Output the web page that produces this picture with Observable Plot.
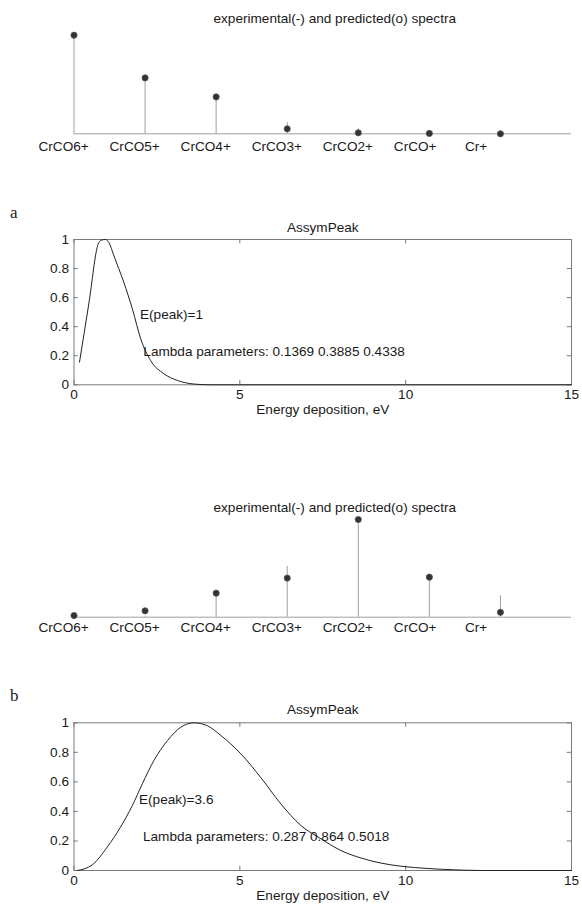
<!DOCTYPE html>
<html><head><meta charset="utf-8">
<script src="https://cdn.jsdelivr.net/npm/d3@7"></script>
<script src="https://cdn.jsdelivr.net/npm/@observablehq/plot@0.6"></script>
<style>
body{margin:0;background:#fff;width:582px;height:904px;position:relative;overflow:hidden}
.p{position:absolute;left:0}
.lab{position:absolute;font-family:"Liberation Serif","DejaVu Serif",serif;font-size:17px;color:#222}
</style></head><body>
<div class="lab" style="left:10px;top:203px">a</div>
<div class="lab" style="left:10px;top:686px">b</div>
<div id="p1" class="p" style="top:0px"></div>
<div id="p2" class="p" style="top:195px"></div>
<div id="p3" class="p" style="top:490px"></div>
<div id="p4" class="p" style="top:680px"></div>
<script>
const categories = ["CrCO6+","CrCO5+","CrCO4+","CrCO3+","CrCO2+","CrCO+","Cr+"];
const expA  = [1.0, 0.57, 0.38, 0.115, 0.05, 0.0, 0.0];
const predA = [1.0, 0.567, 0.374, 0.05, 0.01, 0.004, 0.0];
const expB  = [0.0, 0.01, 0.25, 0.52, 1.0, 0.41, 0.22];
const predB = [0.017, 0.065, 0.246, 0.40, 1.0, 0.41, 0.05];
const stemTitle = "experimental(-) and predicted(o) spectra";

const aE = [0.166, 0.45, 0.73, 0.82, 0.95, 1.05, 1.2, 1.5, 1.76, 2.01, 2.31, 2.71, 3.12, 3.62, 4.1, 5, 15];
const aY = [0.156, 0.563, 0.97, 0.995, 1.0, 0.98, 0.89, 0.706, 0.523, 0.317, 0.167, 0.076, 0.03, 0.005, 0, 0, 0];
const bE = [0.1, 0.55, 1.0, 1.4, 1.76, 2.06, 2.41, 2.82, 3.22, 3.62, 4.02, 4.43, 5.03, 5.63, 6.24, 6.84, 7.45, 8.05, 8.66, 9.26, 9.86, 10.67, 11.48, 12.29, 15];
const bY = [0, 0.038, 0.158, 0.293, 0.44, 0.587, 0.745, 0.88, 0.97, 1.0, 0.98, 0.914, 0.79, 0.63, 0.45, 0.305, 0.214, 0.135, 0.084, 0.05, 0.029, 0.0135, 0.0045, 0, 0];
const xTicks = [0, 5, 10, 15];
const yTicks = [0, 0.2, 0.4, 0.6, 0.8, 1];
const curveTitle = "AssymPeak";
const xLabel = "Energy deposition, eV";
const notesA = [{x: 1.99, y: 0.48, t: "E(peak)=1"}, {x: 2.09, y: 0.229, t: "Lambda parameters: 0.1369 0.3885 0.4338"}];
const notesB = [{x: 1.96, y: 0.479, t: "E(peak)=3.6"}, {x: 2.08, y: 0.23, t: "Lambda parameters: 0.287 0.864 0.5018"}];

const font = {fontFamily: "'Liberation Sans', Arial, Helvetica, sans-serif", fontSize: "13.6px", color: "#1a1a1a", background: "transparent", overflow: "visible"};
const ML = 73.5, MR = 11;

function stem(el, exp, pred, o) {
  const idx = categories.map((c, i) => i);
  const chart = Plot.plot({
    width: 582, height: o.height, marginLeft: ML, marginRight: MR, marginTop: o.mt, marginBottom: o.mb,
    style: font,
    x: {domain: [1, 8], axis: null},
    y: {domain: [0, 1], axis: null},
    marks: [
      Plot.ruleY([0], {stroke: "#a0a0a0", strokeWidth: 1}),
      Plot.ruleX(idx, {x: i => i + 1, y1: 0, y2: i => exp[i], stroke: "#a0a0a0", strokeWidth: 1}),
      Plot.dot(idx, {x: i => i + 1, y: i => pred[i], r: 3.1, fill: "#333", stroke: "#555", strokeWidth: 0.8}),
      Plot.text(idx, {x: i => i + 0.5, y: 0, text: i => categories[i], textAnchor: "start", lineAnchor: "middle", dy: o.ldy, fill: "#1a1a1a"}),
      Plot.text([stemTitle], {frameAnchor: "top", lineAnchor: "middle", dy: o.tdy, dx: 12, fill: "#1a1a1a"})
    ]
  });
  document.getElementById(el).appendChild(chart);
}

function curve(el, E, Y, notes, o) {
  const rows = E.map((e, i) => ({E: e, v: Y[i]}));
  const chart = Plot.plot({
    width: 582, height: o.height, marginLeft: ML, marginRight: MR, marginTop: o.mt, marginBottom: o.mb,
    style: font,
    x: {domain: [0, 15]},
    y: {domain: [0, 1]},
    marks: [
      Plot.frame({stroke: "#7a7a7a"}),
      Plot.axisX({ticks: xTicks, tickSize: 0, tickPadding: 5, label: null, tickFormat: d => String(d)}),
      Plot.axisY({ticks: yTicks, tickSize: 0, tickPadding: 5, label: null, tickFormat: d => String(d)}),
      Plot.ruleX(xTicks, {y1: 0, y2: 0.03, stroke: "#7a7a7a"}),
      Plot.ruleX(xTicks, {y1: 1, y2: 0.97, stroke: "#7a7a7a"}),
      Plot.ruleY(yTicks, {x1: 0, x2: 0.13, stroke: "#7a7a7a"}),
      Plot.ruleY(yTicks, {x1: 15, x2: 14.87, stroke: "#7a7a7a"}),
      Plot.line(rows, {x: "E", y: "v", stroke: "#222", strokeWidth: 1, curve: "monotone-x"}),
      Plot.text(notes, {x: "x", y: "y", text: "t", textAnchor: "start", lineAnchor: "middle", fill: "#1a1a1a"}),
      Plot.text([curveTitle], {frameAnchor: "top", lineAnchor: "middle", dy: o.tdy, fill: "#1a1a1a"}),
      Plot.text([xLabel], {frameAnchor: "bottom", lineAnchor: "middle", dy: o.xdy, fill: "#1a1a1a"})
    ]
  });
  document.getElementById(el).appendChild(chart);
}

stem("p1", expA, predA, {height: 160, mt: 34.7, mb: 26.7, ldy: 12.4, tdy: -16.5});
curve("p2", aE, aY, notesA, {height: 225, mt: 44, mb: 35.7, tdy: -11.5, xdy: 24.5});
stem("p3", expB, predB, {height: 150, mt: 29, mb: 23.3, ldy: 10.8, tdy: -12.3});
curve("p4", bE, bY, notesB, {height: 224, mt: 42.3, mb: 34, tdy: -13, xdy: 25});
</script>
</body></html>
